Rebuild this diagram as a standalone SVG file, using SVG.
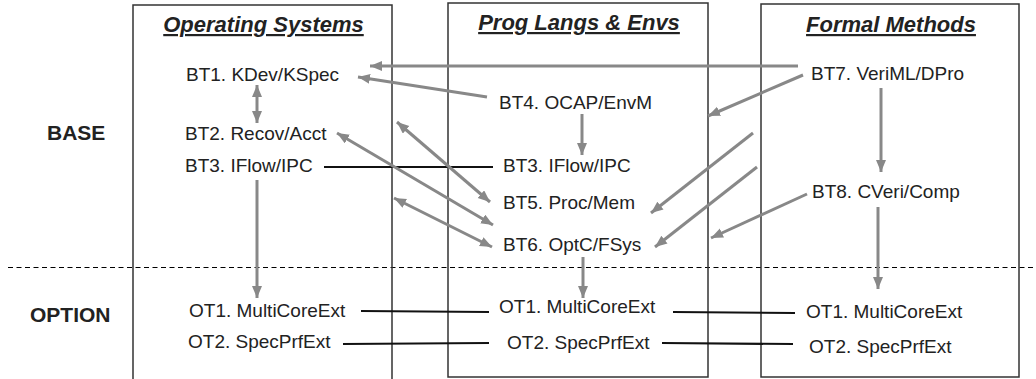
<svg xmlns="http://www.w3.org/2000/svg" width="1036" height="379" viewBox="0 0 1036 379">
<defs>
<style>
.t{font-family:"Liberation Sans",Arial,sans-serif;font-size:19px;fill:#222}
.h{font-family:"Liberation Sans",Arial,sans-serif;font-size:22px;font-weight:bold;font-style:italic;fill:#222;text-decoration:underline}
.r{font-family:"Liberation Sans",Arial,sans-serif;font-size:21px;font-weight:bold;fill:#222}
.box{fill:none;stroke:#333;stroke-width:1.5}
.g{stroke:#888;stroke-width:3;fill:none;marker-end:url(#ah)}
.gd{stroke:#888;stroke-width:3;fill:none;marker-end:url(#ah);marker-start:url(#ah)}
.k{stroke:#111;stroke-width:2.2;fill:none}
</style>
<marker id="ah" markerUnits="userSpaceOnUse" markerWidth="14" markerHeight="12" refX="12" refY="5" orient="auto-start-reverse">
<path d="M0,0 L12,5 L0,10 z" fill="#888"/>
</marker>
</defs>
<rect width="1036" height="379" fill="#fff"/>
<g id="dashed"><line x1="8" y1="267.5" x2="1036" y2="267.5" stroke="#000" stroke-width="1" stroke-dasharray="5,3.5"/></g>
<g id="col-os"><path class="box" d="M133,385 V5 H392 V385"/><text class="h" x="263.5" y="32" text-anchor="middle">Operating Systems</text></g>
<g id="col-pl"><rect class="box" x="448" y="3" width="260" height="374"/><text class="h" x="579" y="30" text-anchor="middle">Prog Langs &amp; Envs</text></g>
<g id="col-fm"><rect class="box" x="761" y="4" width="258" height="373"/><text class="h" x="891" y="32" text-anchor="middle">Formal Methods</text></g>
<g id="lbl-base"><text class="r" x="47" y="140">BASE</text></g>
<g id="lbl-option"><text class="r" x="30" y="322">OPTION</text></g>
<g id="os-bt1"><text class="t" x="186" y="81">BT1. KDev/KSpec</text></g>
<g id="os-bt2"><text class="t" x="185" y="140">BT2. Recov/Acct</text></g>
<g id="os-bt3"><text class="t" x="185" y="172">BT3. IFlow/IPC</text></g>
<g id="os-ot1"><text class="t" x="189" y="317">OT1. MultiCoreExt</text></g>
<g id="os-ot2"><text class="t" x="188" y="348">OT2. SpecPrfExt</text></g>
<g id="pl-bt4"><text class="t" x="499" y="109">BT4. OCAP/EnvM</text></g>
<g id="pl-bt3"><text class="t" x="503" y="172">BT3. IFlow/IPC</text></g>
<g id="pl-bt5"><text class="t" x="503" y="209">BT5. Proc/Mem</text></g>
<g id="pl-bt6"><text class="t" x="503" y="251">BT6. OptC/FSys</text></g>
<g id="pl-ot1"><text class="t" x="499" y="313">OT1. MultiCoreExt</text></g>
<g id="pl-ot2"><text class="t" x="507" y="349">OT2. SpecPrfExt</text></g>
<g id="fm-bt7"><text class="t" x="811" y="80">BT7. VeriML/DPro</text></g>
<g id="fm-bt8"><text class="t" x="812" y="198">BT8. CVeri/Comp</text></g>
<g id="fm-ot1"><text class="t" x="806" y="318">OT1. MultiCoreExt</text></g>
<g id="fm-ot2"><text class="t" x="809" y="353">OT2. SpecPrfExt</text></g>
<g id="connectors">
<line class="g" x1="798" y1="66" x2="370" y2="66"/>
<line class="g" x1="487" y1="97" x2="358" y2="77"/>
<line class="gd" x1="257" y1="85" x2="257" y2="123"/>
<line class="g" x1="582" y1="114" x2="582" y2="155"/>
<line class="k" x1="324" y1="167" x2="493" y2="167"/>
<line class="g" x1="257" y1="180" x2="257" y2="298"/>
<line class="g" x1="803" y1="75" x2="708" y2="116"/>
<line class="g" x1="753" y1="133" x2="651" y2="213"/>
<line class="g" x1="757" y1="167" x2="655" y2="247"/>
<line class="g" x1="807" y1="194" x2="711" y2="238"/>
<line class="gd" x1="397" y1="122" x2="490" y2="202"/>
<line class="gd" x1="337" y1="133" x2="493" y2="225"/>
<line class="gd" x1="394" y1="198" x2="492" y2="247"/>
<line class="g" x1="881" y1="88" x2="881" y2="172"/>
<line class="g" x1="878" y1="207" x2="878" y2="289"/>
<line class="g" x1="583" y1="257" x2="583" y2="298"/>
<line class="k" x1="361" y1="311" x2="489" y2="312"/>
<line class="k" x1="673" y1="312" x2="795" y2="313"/>
<line class="k" x1="343" y1="344" x2="489" y2="343"/>
<line class="k" x1="662" y1="343" x2="793" y2="344"/>
</g>
</svg>
